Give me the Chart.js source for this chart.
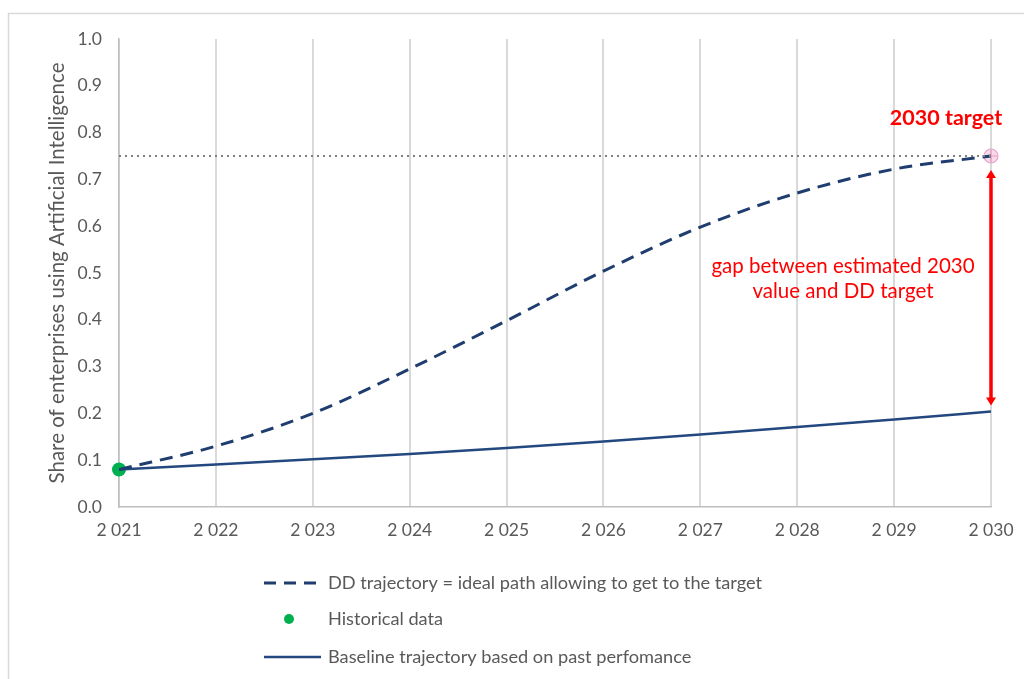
<!DOCTYPE html>
<html>
<head>
<meta charset="utf-8">
<script src="https://cdn.jsdelivr.net/npm/chart.js@4/dist/chart.umd.min.js"></script>
<style>
  html, body { margin: 0; padding: 0; background: #ffffff; }
  #wrap { position: relative; width: 1024px; height: 679px; }
</style>
</head>
<body>
<div id="wrap"><canvas id="c" width="1024" height="679"></canvas></div>
<script>
// Years on the horizontal axis
const years = [2021, 2022, 2023, 2024, 2025, 2026, 2027, 2028, 2029, 2030];
// Digital Decade trajectory towards the 2030 target
const ddTrajectory = [0.08, 0.13, 0.20, 0.295, 0.398, 0.504, 0.598, 0.671, 0.722, 0.75];
// Baseline trajectory from past performance
const baseline = [0.08, 0.091, 0.102, 0.113, 0.126, 0.140, 0.155, 0.171, 0.187, 0.204];
// Observed data
const historicalYears = [2021];
const historicalValues = [0.08];
// 2030 target
const targetYear = 2030;
const targetValue = 0.75;
// Axis tick labels
const yTicks = [0, 0.1, 0.2, 0.3, 0.4, 0.5, 0.6, 0.7, 0.8, 0.9, 1.0];

const FONT = 'Lato, "Open Sans", "Liberation Sans", sans-serif';
const NAVY = '#1F3D6E';
const NAVY2 = '#23487F';
const GREEN = '#00B050';
const RED = '#FF0000';
const GREY_TXT = '#595959';

const pts = (xs, ys) => xs.map((x, i) => ({ x: x, y: ys[i] }));

const legendItems = [
  { text: 'DD trajectory = ideal path allowing to get to the target', kind: 'dash' },
  { text: 'Historical data', kind: 'dot' },
  { text: 'Baseline trajectory based on past perfomance', kind: 'line' }
];

const decorations = {
  id: 'decorations',
  beforeDraw(chart) {
    const ctx = chart.ctx;
    ctx.save();
    ctx.fillStyle = '#ffffff';
    ctx.fillRect(0, 0, chart.width, chart.height);
    ctx.strokeStyle = '#D9D9D9';
    ctx.lineWidth = 1.5;
    ctx.strokeRect(8.5, 13.5, chart.width + 20, chart.height + 20);
    ctx.restore();
  },
  afterDatasetsDraw(chart) {
    const ctx = chart.ctx;
    const xs = chart.scales.x, ys = chart.scales.y;
    const ax = xs.getPixelForValue(targetYear);
    const yTop = ys.getPixelForValue(targetValue) + 14;
    const yBot = ys.getPixelForValue(baseline[baseline.length - 1]) - 6;
    ctx.save();
    // double-headed gap arrow
    ctx.strokeStyle = RED;
    ctx.fillStyle = RED;
    ctx.lineWidth = 3.5;
    ctx.beginPath();
    ctx.moveTo(ax, yTop + 6);
    ctx.lineTo(ax, yBot - 6);
    ctx.stroke();
    ctx.beginPath();
    ctx.moveTo(ax, yTop);
    ctx.lineTo(ax - 5, yTop + 8);
    ctx.lineTo(ax + 5, yTop + 8);
    ctx.closePath();
    ctx.fill();
    ctx.beginPath();
    ctx.moveTo(ax, yBot);
    ctx.lineTo(ax - 5, yBot - 8);
    ctx.lineTo(ax + 5, yBot - 8);
    ctx.closePath();
    ctx.fill();

    // annotations
    ctx.textAlign = 'center';
    ctx.textBaseline = 'middle';
    ctx.font = 'bold 21.5px ' + FONT;
    ctx.fillText('2030 target', 946, 118);
    ctx.font = '20.5px ' + FONT;
    ctx.fillText('gap between estimated 2030', 843, 266);
    ctx.fillText('value and DD target', 843, 291);
    ctx.restore();
  },
  afterDraw(chart) {
    const ctx = chart.ctx;
    const rows = [583, 619, 657];
    ctx.save();
    ctx.font = '18.2px ' + FONT;
    ctx.textAlign = 'left';
    ctx.textBaseline = 'middle';
    legendItems.forEach((it, i) => {
      const y = rows[i];
      if (it.kind === 'dash') {
        ctx.strokeStyle = NAVY;
        ctx.lineWidth = 3;
        ctx.setLineDash([12, 8]);
        ctx.beginPath();
        ctx.moveTo(264, y);
        ctx.lineTo(320, y);
        ctx.stroke();
        ctx.setLineDash([]);
      } else if (it.kind === 'dot') {
        ctx.fillStyle = GREEN;
        ctx.beginPath();
        ctx.arc(289, y, 5, 0, Math.PI * 2);
        ctx.fill();
      } else {
        ctx.strokeStyle = NAVY2;
        ctx.lineWidth = 2.5;
        ctx.beginPath();
        ctx.moveTo(264, y);
        ctx.lineTo(321, y);
        ctx.stroke();
      }
      ctx.fillStyle = GREY_TXT;
      ctx.fillText(it.text, 328, y);
    });
    ctx.restore();
  }
};

new Chart(document.getElementById('c'), {
  type: 'line',
  data: {
    datasets: [
      {
        label: 'target level',
        data: pts([years[0], targetYear], [targetValue, targetValue]),
        borderColor: '#7F7F7F',
        borderWidth: 2,
        borderDash: [2, 4],
        pointRadius: 0,
        fill: false
      },
      {
        label: 'DD trajectory = ideal path allowing to get to the target',
        data: pts(years, ddTrajectory),
        borderColor: NAVY,
        borderWidth: 3,
        borderDash: [13, 8],
        cubicInterpolationMode: 'monotone',
        pointRadius: 0,
        fill: false
      },
      {
        label: 'Baseline trajectory based on past perfomance',
        data: pts(years, baseline),
        borderColor: NAVY2,
        borderWidth: 2.5,
        cubicInterpolationMode: 'monotone',
        pointRadius: 0,
        fill: false
      },
      {
        label: 'Historical data',
        data: pts(historicalYears, historicalValues),
        showLine: false,
        clip: false,
        pointRadius: 7,
        pointBackgroundColor: GREEN,
        pointBorderColor: GREEN,
        pointBorderWidth: 0
      },
      {
        label: '2030 target',
        data: pts([targetYear], [targetValue]),
        showLine: false,
        clip: false,
        pointStyle: 'circle',
        pointRadius: 7,
        pointBackgroundColor: 'rgba(238,170,205,0.45)',
        pointBorderColor: '#E7A3C8',
        pointBorderWidth: 1.2
      },
      {
        label: '2030 target cross',
        data: pts([targetYear], [targetValue]),
        showLine: false,
        clip: false,
        pointStyle: 'cross',
        pointRadius: 6,
        pointBorderColor: '#E38DB9',
        pointBorderWidth: 1
      }
    ]
  },
  options: {
    responsive: false,
    animation: false,
    events: [],
    layout: { padding: { left: 8, right: 33, top: 39, bottom: 134 } },
    plugins: {
      legend: { display: false },
      tooltip: { enabled: false }
    },
    scales: {
      x: {
        type: 'linear',
        min: years[0],
        max: years[years.length - 1],
        afterBuildTicks(scale) { scale.ticks = years.map(v => ({ value: v })); },
        afterFit(scale) { scale.height = 38; scale.paddingRight = 0; scale.paddingLeft = 0; },
        grid: { color: '#D9D9D9', lineWidth: 2, drawTicks: false },
        border: { display: true, color: '#BFBFBF', width: 1.5 },
        ticks: {
          padding: 13,
          color: GREY_TXT,
          font: { family: FONT, size: 17.5 },
          maxRotation: 0,
          callback: v => { const s = String(v); return s.slice(0, 1) + ' ' + s.slice(1); }
        }
      },
      y: {
        min: 0,
        max: 1,
        afterBuildTicks(scale) { scale.ticks = yTicks.map(v => ({ value: v })); },
        afterFit(scale) { scale.width = 111; },
        grid: { display: false, drawTicks: false },
        border: { display: true, color: '#BFBFBF', width: 1.5 },
        ticks: {
          padding: 17,
          color: GREY_TXT,
          font: { family: FONT, size: 17.5 },
          callback: v => Number(v).toFixed(1)
        },
        title: {
          display: true,
          text: 'Share of enterprises using Artificial Intelligence',
          color: GREY_TXT,
          font: { family: FONT, size: 20.5 },
          padding: { top: 37, bottom: 0 }
        }
      }
    }
  },
  plugins: [decorations]
});
</script>
</body>
</html>
